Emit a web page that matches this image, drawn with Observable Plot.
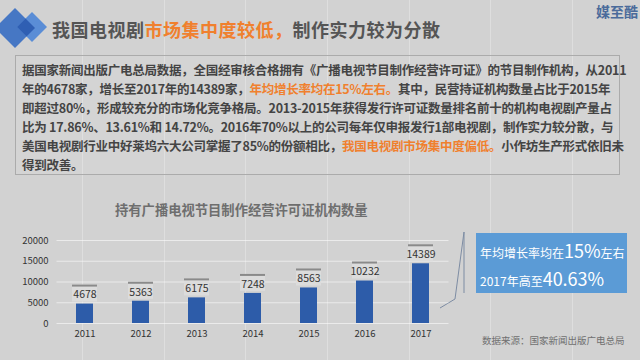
<!DOCTYPE html>
<html><head><meta charset="utf-8">
<script src="https://cdn.jsdelivr.net/npm/d3@7"></script>
<script src="https://cdn.jsdelivr.net/npm/@observablehq/plot@0.6"></script>
<style>
html,body{margin:0;padding:0;}
body{width:640px;height:360px;position:relative;overflow:hidden;background:#d2d2d2;
  font-family:"Noto Sans CJK SC","Noto Sans",sans-serif;}
.vgrid{position:absolute;top:0;width:1px;height:360px;background:rgba(255,255,255,0.28);}
#title{position:absolute;left:52px;top:16px;font-size:18px;font-weight:bold;color:#555;letter-spacing:0.5px;line-height:26px;white-space:nowrap;}
.or{color:#f0802e;}
#brand{position:absolute;left:596px;top:0px;font-size:14px;font-weight:bold;color:#4b6b9b;line-height:22px;}
#para{position:absolute;left:15px;top:55px;width:603px;height:118px;border:1px solid #ababab;background:rgba(255,255,255,0.06);}
#para div{position:absolute;left:6px;font-size:12.5px;letter-spacing:-0.25px;font-weight:bold;color:#444;line-height:19px;white-space:nowrap;}
#ctitle{position:absolute;left:115px;top:200px;font-size:13.3px;font-weight:bold;color:#6e6e6e;line-height:20px;white-space:nowrap;}
#chart{position:absolute;left:0;top:225px;}
#bluebox{position:absolute;left:476px;top:233px;width:151px;height:60px;background:#5b9bd6;color:#fff;}
#bluebox div{position:absolute;left:4px;white-space:nowrap;font-size:12px;}
#bluebox .big{font-size:18px;}
#src{position:absolute;left:482px;top:332px;font-size:9.5px;color:#707070;line-height:16px;white-space:nowrap;}
#deco{position:absolute;left:0;top:0;}
</style></head>
<body>
<div class="vgrid" style="left:82px"></div>
<div class="vgrid" style="left:164px"></div>
<div class="vgrid" style="left:245px"></div>
<div class="vgrid" style="left:327px"></div>
<div class="vgrid" style="left:409px"></div>
<div class="vgrid" style="left:490px"></div>
<div class="vgrid" style="left:572px"></div>

<svg id="deco" width="640" height="360">
  <defs><clipPath id="clipL"><polygon points="15,8 35,28 15,48 -5,28"/></clipPath></defs>
  <polygon points="15,8 35,28 15,48 -5,28" fill="#4677c4"/>
  <polygon points="32,12 47,27 32,42 17,27" fill="#5a8dd6"/>
  <polygon points="32,12 47,27 32,42 17,27" fill="#2f5fb3" clip-path="url(#clipL)"/>
  <polyline points="440,308 455,299 464,232" fill="none" stroke="#7d8ca3" stroke-width="1"/>
  <line x1="464" y1="232" x2="464" y2="293" stroke="#7d8ca3" stroke-width="1"/>
</svg>

<div id="title">我国电视剧<span class="or">市场集中度较低，</span>制作实力较为分散</div>
<div id="brand">媒至酷</div>

<div id="para">
  <div style="top:4px">据国家新闻出版广电总局数据，全国经审核合格拥有《广播电视节目制作经营许可证》的节目制作机构，从2011</div>
  <div style="top:23px">年的4678家，增长至2017年的14389家，<span class="or">年均增长率均在15%左右。</span>其中，民营持证机构数量占比于2015年</div>
  <div style="top:42px">即超过80%，形成较充分的市场化竞争格局。2013-2015年获得发行许可证数量排名前十的机构电视剧产量占</div>
  <div style="top:61px">比为 17.86%、13.61%和 14.72%。2016年70%以上的公司每年仅申报发行1部电视剧，制作实力较分散，与</div>
  <div style="top:80px">美国电视剧行业中好莱坞六大公司掌握了85%的份额相比，<span class="or">我国电视剧市场集中度偏低。</span>小作坊生产形式依旧未</div>
  <div style="top:99px">得到改善。</div>
</div>

<div id="ctitle">持有广播电视节目制作经营许可证机构数量</div>
<div id="chart"></div>

<div id="bluebox">
  <div style="top:4px">年均增长率均在<span class="big">15%</span>左右</div>
  <div style="top:32px">2017年高至<span class="big">40.63%</span></div>
</div>
<div id="src">数据来源：国家新闻出版广电总局</div>

<script>
const years = ["2011","2012","2013","2014","2015","2016","2017"];
const counts = [4678, 5363, 6175, 7248, 8563, 10232, 14389];
const yTicks = [0, 5000, 10000, 15000, 20000];

const data = years.map((year, i) => ({year, count: counts[i]}));

const chart = Plot.plot({
  width: 460,
  height: 120,
  marginLeft: 56.5,
  marginRight: 11.5,
  marginTop: 15,
  marginBottom: 22,
  style: {background: "transparent", fontFamily: "'Noto Sans CJK SC','Noto Sans',sans-serif", fontSize: "9.5px", color: "#333"},
  x: {domain: years, paddingInner: 0.7, paddingOuter: 0.35, label: null, tickSize: 0, tickPadding: 7},
  y: {domain: [0, 20000], ticks: yTicks, label: null, tickSize: 0, tickPadding: 8.5, tickFormat: d => String(d)},
  marks: [
    Plot.ruleY(yTicks, {stroke: "#ffffff", strokeOpacity: 0.55}),
    Plot.barY(data, {x: "year", y: "count", fill: "#2d5ca9"}),
    Plot.barY(data, {x: "year", y1: "count", y2: "count", insetTop: -19, insetBottom: 2, insetLeft: -4, insetRight: -4, fill: "#dcdcdc"}),
    Plot.barY(data, {x: "year", y1: "count", y2: "count", insetTop: -19, insetBottom: 17, insetLeft: -4, insetRight: -4, fill: "#8a8a8a"}),
    Plot.text(data, {x: "year", y: "count", text: d => String(d.count), dy: -9, fill: "#333", fontSize: 10.5})
  ]
});
document.getElementById("chart").appendChild(chart);
</script>
</body></html>
